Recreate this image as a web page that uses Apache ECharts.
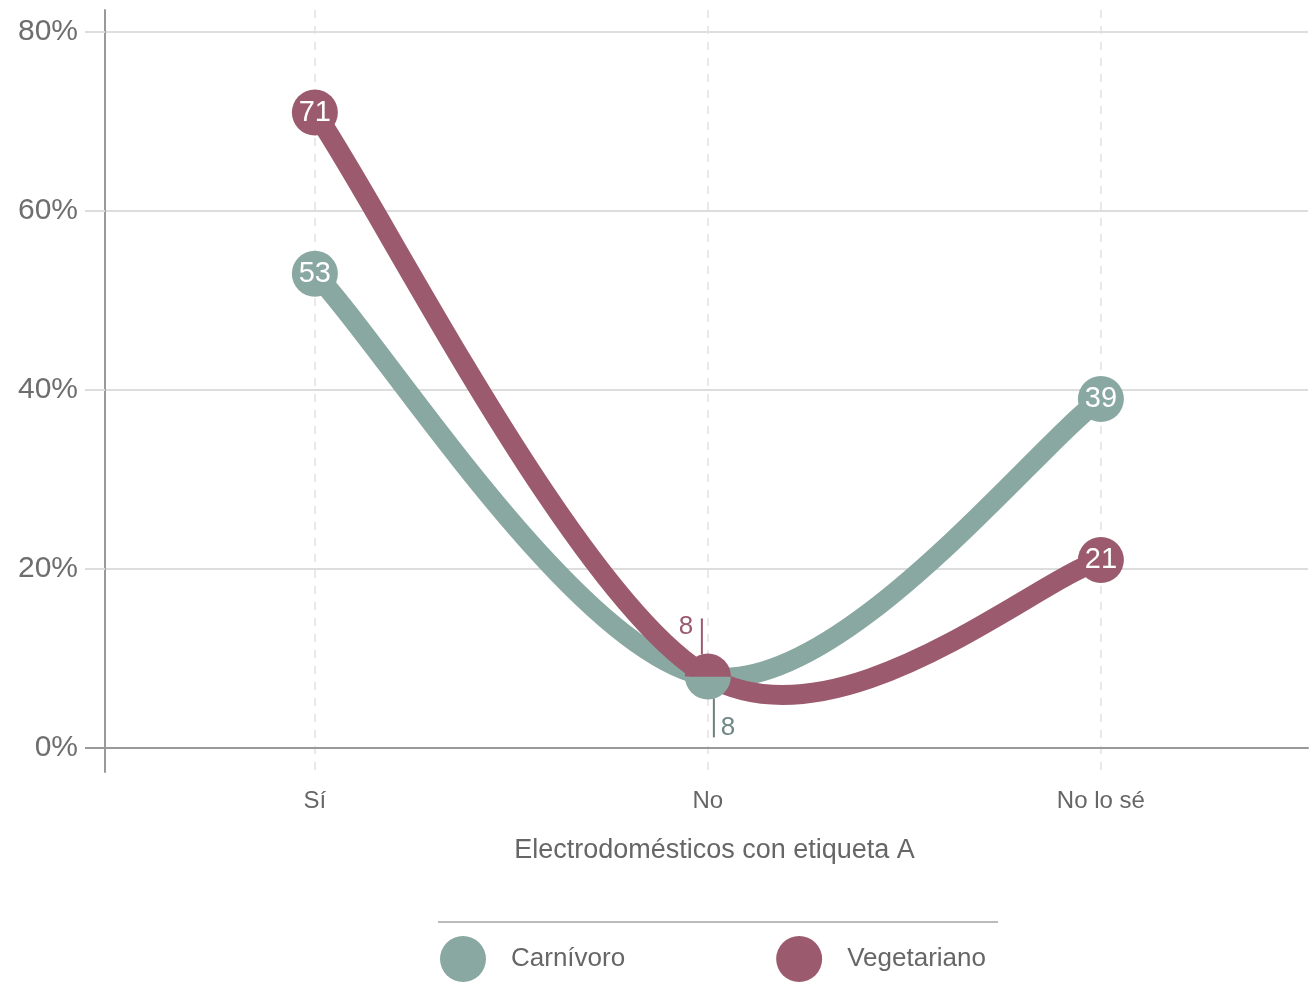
<!DOCTYPE html>
<html>
<head>
<meta charset="utf-8">
<script src="https://cdn.jsdelivr.net/npm/echarts@6/dist/echarts.min.js"></script>
<style>
html,body{margin:0;padding:0;background:#fff;}
#c{width:1314px;height:984px;}
</style>
</head>
<body>
<div id="c"></div>
<script>
const categories = ['Sí', 'No', 'No lo sé'];
const carnivoro = [53, 8, 39];
const vegetariano = [71, 8, 21];
const yTicks = [0, 20, 40, 60, 80];
const seriesNames = ['Carnívoro', 'Vegetariano'];

const GREEN = '#8aa8a2';
const RED = '#9b5a6d';
const GREEN_TXT = '#6f8785';
const FONT = 'Liberation Sans, Arial, Helvetica, sans-serif';
const MID = 1; // index of the overlapping point
const LINE_W = 20;

const chart = echarts.init(document.getElementById('c'), null, { renderer: 'canvas' });

// Cardinal (Catmull-Rom, tension 0) curve through the points, built in pixel space from api.coord
function curveSeries(name, vals, color, z) {
  return {
    name: name,
    type: 'custom',
    z: z,
    silent: true,
    legendHoverLink: false,
    data: vals.map((v, i) => [i, v]),
    encode: { x: 0, y: 1 },
    renderItem: function (params, api) {
      if (params.dataIndex !== 0) return null;
      const p = vals.map((v, i) => api.coord([i, v]));
      const n = p.length;
      const children = [];
      for (let i = 0; i < n - 1; i++) {
        const p0 = p[Math.max(i - 1, 0)], p1 = p[i], p2 = p[i + 1], p3 = p[Math.min(i + 2, n - 1)];
        children.push({
          type: 'bezierCurve',
          shape: {
            x1: p1[0], y1: p1[1], x2: p2[0], y2: p2[1],
            cpx1: p1[0] + (p2[0] - p0[0]) / 6, cpy1: p1[1] + (p2[1] - p0[1]) / 6,
            cpx2: p2[0] - (p3[0] - p1[0]) / 6, cpy2: p2[1] - (p3[1] - p1[1]) / 6
          },
          style: { stroke: color, lineWidth: LINE_W, fill: null, lineCap: 'round', lineJoin: 'round' }
        });
      }
      return { type: 'group', children: children };
    }
  };
}

function markerSeries(name, vals, color, half, z) {
  const top = half === 'top';
  return {
    name: name,
    type: 'scatter',
    z: z,
    data: vals.map((v, i) => i === MID
      ? { value: [i, v], symbol: 'none', label: { show: false } }
      : { value: [i, v] }),
    symbol: 'circle',
    symbolSize: 46,
    itemStyle: { color: color, opacity: 1 },
    label: {
      show: true, position: 'inside', color: '#fff',
      fontSize: 29, fontFamily: FONT,
      formatter: p => String(p.value[1])
    },
    emphasis: { disabled: true },
    markPoint: {
      z: 10,
      animation: false,
      data: [{
        coord: [MID, vals[MID]],
        symbol: top ? 'path://M0,10 A10,10 0 0 1 20,10 Z' : 'path://M0,0 A10,10 0 0 0 20,0 Z',
        symbolSize: [46, 23],
        symbolOffset: [0, top ? -11.5 : 11.5],
        itemStyle: { color: color },
        label: {
          show: true, position: 'inside',
          offset: top ? [-22, -38] : [20, 40],
          color: top ? RED : GREEN_TXT,
          fontSize: 26, fontFamily: FONT,
          formatter: String(vals[MID])
        }
      }]
    }
  };
}

const option = {
  animation: false,
  backgroundColor: '#fff',
  grid: { left: 105, right: 6, top: 10, bottom: 212 },
  xAxis: {
    type: 'value',
    min: -0.534, max: 2.527,
    axisLine: { show: true, onZero: true, lineStyle: { color: '#999', width: 2 } },
    axisTick: { show: false, customValues: [0, 1, 2] },
    axisLabel: {
      customValues: [0, 1, 2],
      formatter: v => categories[Math.round(v)] || '',
      color: '#666', fontSize: 24, fontFamily: FONT, margin: 17
    },
    splitLine: { show: true, lineStyle: { color: '#e2e2e2', type: [8, 8], width: 1.5 } },
    name: 'Electrodomésticos con etiqueta A',
    nameLocation: 'middle', nameGap: 65,
    nameTextStyle: { color: '#666', fontSize: 27, fontFamily: FONT, padding: [0, 0, 0, 16] }
  },
  yAxis: {
    type: 'value',
    min: -2.68, max: 82.46,
    axisLine: { show: true, onZero: false, lineStyle: { color: '#999', width: 2 } },
    axisTick: { show: true, length: 20, customValues: yTicks, lineStyle: { color: '#ddd', width: 2 } },
    axisLabel: {
      customValues: yTicks,
      formatter: '{value}%',
      color: '#6e6e6e', fontSize: 30, fontFamily: FONT, margin: 27
    },
    splitLine: { show: true, lineStyle: { color: '#ddd', width: 2 } }
  },
  legend: {
    left: 435, top: 931,
    icon: 'circle',
    itemWidth: 46, itemHeight: 46,
    itemGap: 151,
    data: seriesNames.map((n, i) => ({ name: n, itemStyle: { color: i === 0 ? GREEN : RED } })),
    textStyle: { color: '#666', fontSize: 26, fontFamily: FONT, padding: [0, 0, 0, 20] },
    selectedMode: false
  },
  graphic: [{
    type: 'line', silent: true,
    shape: { x1: 438, y1: 922, x2: 998, y2: 922 },
    style: { stroke: '#bbb', lineWidth: 2 }
  }],
  series: [
    curveSeries(seriesNames[0], carnivoro, GREEN, 2),
    curveSeries(seriesNames[1], vegetariano, RED, 3),
    markerSeries(seriesNames[0], carnivoro, GREEN, 'bottom', 4),
    markerSeries(seriesNames[1], vegetariano, RED, 'top', 4)
  ]
};
chart.setOption(option);

// leader lines for the overlapping point labels, positioned from the data through the axes
function leaders() {
  const pv = chart.convertToPixel({ gridIndex: 0 }, [MID, vegetariano[MID]]);
  const pc = chart.convertToPixel({ gridIndex: 0 }, [MID, carnivoro[MID]]);
  const z0 = chart.convertToPixel({ gridIndex: 0 }, [MID, 0]);
  chart.setOption({
    graphic: [
      option.graphic[0],
      { type: 'line', silent: true, z: 20,
        shape: { x1: pv[0] - 6, y1: pv[1] - 58, x2: pv[0] - 6, y2: pv[1] - 22 },
        style: { stroke: RED, lineWidth: 2 } },
      { type: 'line', silent: true, z: 20,
        shape: { x1: pc[0] + 6, y1: pc[1] + 22, x2: pc[0] + 6, y2: pc[1] + 61 },
        style: { stroke: '#6f7f7f', lineWidth: 2 } },
      // dark tick at the 0% baseline (left of the y axis)
      { type: 'line', silent: true, z: 20,
        shape: { x1: 85, y1: z0[1], x2: 105, y2: z0[1] },
        style: { stroke: '#999', lineWidth: 2 } }
    ]
  });
}
leaders();
</script>
</body>
</html>
